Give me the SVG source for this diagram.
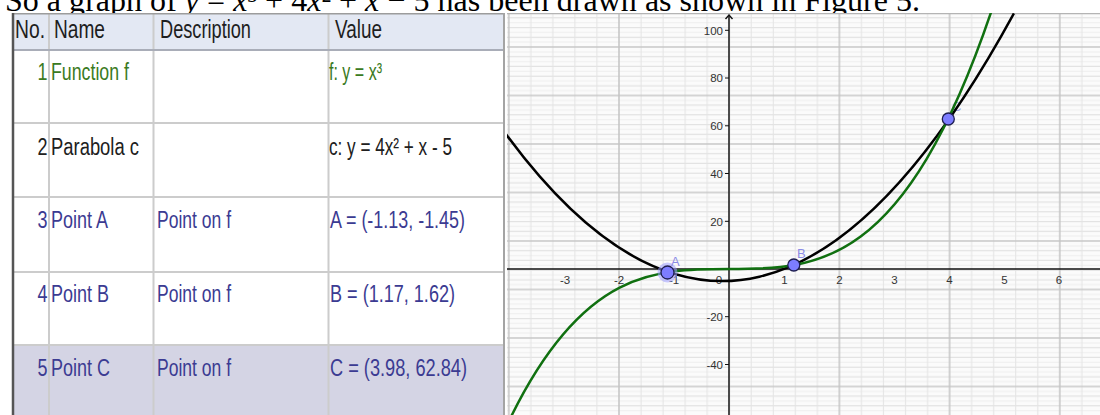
<svg xmlns="http://www.w3.org/2000/svg" width="1100" height="415" viewBox="0 0 1100 415">
<style>
.top{font-family:"Liberation Serif","Times New Roman",serif;font-size:32px;fill:#000}
.it{font-style:italic}
.cell{font-family:"Liberation Sans Narrow","Liberation Sans",Arial,sans-serif;font-size:23.5px}
.hdr{font-family:"Liberation Sans Narrow","Liberation Sans",Arial,sans-serif;font-size:25px;fill:#1e1e1e}
.num{text-anchor:end}
.g{fill:#3a7a22}
.k{fill:#202020}
.b{fill:#3b3b92}
.sep{stroke:#cccccc;stroke-width:2}
.tick{font-family:"Liberation Sans",Arial,sans-serif;font-size:11.5px;fill:#333}
.ty{text-anchor:end}
.tx{text-anchor:middle}
.pt{fill:#7d7dff;stroke:#1e1e50;stroke-width:1.3}
.plab{font-family:"Liberation Sans",Arial,sans-serif;font-size:13px;fill:#8c8ce6}
.curve{fill:none;stroke-width:2.5}
</style>
<defs>
<pattern id="grid" x="507.8" y="-2.5" width="110.2" height="48.5" patternUnits="userSpaceOnUse">
<rect width="110.2" height="48.5" fill="#fbfbfb"/>
<g stroke="#eeeeee" stroke-width="1">
<line x1="0" y1="5.85" x2="110.2" y2="5.85"/><line x1="0" y1="15.55" x2="110.2" y2="15.55"/><line x1="0" y1="25.25" x2="110.2" y2="25.25"/><line x1="0" y1="34.95" x2="110.2" y2="34.95"/><line x1="0" y1="44.65" x2="110.2" y2="44.65"/>
</g>
<g stroke="#dddddd" stroke-width="1">
<line x1="0" y1="10.7" x2="110.2" y2="10.7"/><line x1="0" y1="20.4" x2="110.2" y2="20.4"/><line x1="0" y1="30.1" x2="110.2" y2="30.1"/><line x1="0" y1="39.8" x2="110.2" y2="39.8"/>
</g>
<g stroke="#e4e4e4" stroke-width="1">
<line x1="23.04" y1="0" x2="23.04" y2="48.5"/><line x1="45.08" y1="0" x2="45.08" y2="48.5"/><line x1="67.12" y1="0" x2="67.12" y2="48.5"/><line x1="89.16" y1="0" x2="89.16" y2="48.5"/>
</g>
<line x1="0" y1="1" x2="110.2" y2="1" stroke="#c8c8c8" stroke-width="1.3"/>
<line x1="1" y1="0" x2="1" y2="48.5" stroke="#c4c4c4" stroke-width="1.5"/>
</pattern>
<clipPath id="gclip"><rect x="507" y="13" width="593" height="402"/></clipPath>
</defs>

<rect width="1100" height="415" fill="#ffffff"/>

<g id="caption">
<text class="top" x="5" y="10.5" textLength="915" lengthAdjust="spacing">So a graph of <tspan class="it">y</tspan> = <tspan class="it">x</tspan>³ + 4<tspan class="it">x</tspan>² + <tspan class="it">x</tspan> − 5 has been drawn as shown in Figure 5.</text>
</g>

<g id="table">
<rect x="12" y="13" width="493" height="402" fill="#ffffff"/>
<rect x="12" y="13" width="493" height="37" fill="#e3e8f3"/>
<rect x="12" y="345" width="493" height="70" fill="#d4d4e4"/>
<g class="sep">
<line x1="49" y1="13" x2="49" y2="415"/>
<line x1="153.5" y1="13" x2="153.5" y2="415"/>
<line x1="328.5" y1="13" x2="328.5" y2="415"/>
<line x1="12" y1="123" x2="505" y2="123"/>
<line x1="12" y1="197" x2="505" y2="197"/>
<line x1="12" y1="272" x2="505" y2="272"/>
<line x1="12" y1="345" x2="505" y2="345"/>
</g>
<line x1="12" y1="50" x2="505" y2="50" stroke="#a9adb8" stroke-width="2"/>
<line x1="12" y1="13.7" x2="505" y2="13.7" stroke="#9c9c9c" stroke-width="1.5"/>
<line x1="13" y1="13" x2="13" y2="415" stroke="#555555" stroke-width="2.5"/>
<line x1="504" y1="13" x2="504" y2="415" stroke="#a4a4a4" stroke-width="2"/>

<g id="header">
<text class="hdr" x="15" y="38" textLength="30" lengthAdjust="spacingAndGlyphs">No.</text>
<text class="hdr" x="54" y="38" textLength="51" lengthAdjust="spacingAndGlyphs">Name</text>
<text class="hdr" x="160" y="38" textLength="91" lengthAdjust="spacingAndGlyphs">Description</text>
<text class="hdr" x="335" y="38" textLength="47" lengthAdjust="spacingAndGlyphs">Value</text>
</g>
<g id="row1" class="cell g">
<text class="num" x="47.5" y="80" textLength="10" lengthAdjust="spacingAndGlyphs">1</text>
<text x="51" y="80" textLength="78" lengthAdjust="spacingAndGlyphs">Function f</text>
<text x="329" y="80" textLength="53" lengthAdjust="spacingAndGlyphs">f: y = x³</text>
</g>
<g id="row2" class="cell k">
<text class="num" x="47.5" y="155" textLength="10" lengthAdjust="spacingAndGlyphs">2</text>
<text x="51" y="155" textLength="88" lengthAdjust="spacingAndGlyphs">Parabola c</text>
<text x="329" y="155" textLength="123" lengthAdjust="spacingAndGlyphs">c: y = 4x² + x - 5</text>
</g>
<g id="row3" class="cell b">
<text class="num" x="47.5" y="228" textLength="10" lengthAdjust="spacingAndGlyphs">3</text>
<text x="51" y="228" textLength="57" lengthAdjust="spacingAndGlyphs">Point A</text>
<text x="157" y="228" textLength="74" lengthAdjust="spacingAndGlyphs">Point on f</text>
<text x="330" y="228" textLength="135" lengthAdjust="spacingAndGlyphs">A = (-1.13, -1.45)</text>
</g>
<g id="row4" class="cell b">
<text class="num" x="47.5" y="302" textLength="10" lengthAdjust="spacingAndGlyphs">4</text>
<text x="51" y="302" textLength="58" lengthAdjust="spacingAndGlyphs">Point B</text>
<text x="157" y="302" textLength="74" lengthAdjust="spacingAndGlyphs">Point on f</text>
<text x="330" y="302" textLength="125" lengthAdjust="spacingAndGlyphs">B = (1.17, 1.62)</text>
</g>
<g id="row5" class="cell b">
<text class="num" x="47.5" y="376" textLength="10" lengthAdjust="spacingAndGlyphs">5</text>
<text x="51" y="376" textLength="59" lengthAdjust="spacingAndGlyphs">Point C</text>
<text x="157" y="376" textLength="74" lengthAdjust="spacingAndGlyphs">Point on f</text>
<text x="330" y="376" textLength="137" lengthAdjust="spacingAndGlyphs">C = (3.98, 62.84)</text>
</g>
</g>

<g id="graph">
<rect x="507" y="13" width="593" height="402" fill="url(#grid)"/>
<line x1="507" y1="13.6" x2="1100" y2="13.6" stroke="#b4b4b4" stroke-width="1.2"/>
<g id="axes" stroke="#111" stroke-width="1.4" fill="none">
<line x1="507" y1="269" x2="1100" y2="269"/>
<line x1="729" y1="15" x2="729" y2="415"/>
<polyline points="725.5,19 729,15 732.5,19"/>
<g stroke-width="1">
<line x1="725" y1="30.3" x2="729" y2="30.3"/>
<line x1="725" y1="78" x2="729" y2="78"/>
<line x1="725" y1="125.8" x2="729" y2="125.8"/>
<line x1="725" y1="173.5" x2="729" y2="173.5"/>
<line x1="725" y1="221.3" x2="729" y2="221.3"/>
<line x1="725" y1="316.7" x2="729" y2="316.7"/>
<line x1="725" y1="364.5" x2="729" y2="364.5"/>
</g>
</g>
<g id="ylabels" class="tick ty">
<text x="723" y="34.5">100</text>
<text x="723" y="82.2">80</text>
<text x="723" y="130">60</text>
<text x="723" y="177.7">40</text>
<text x="723" y="225.5">20</text>
<text x="723" y="320.9">-20</text>
<text x="723" y="368.7">-40</text>
</g>
<g id="xlabels" class="tick tx">
<text x="565" y="283.5">-3</text>
<text x="619" y="283.5">-2</text>
<text x="674" y="283.5">-1</text>
<text x="719" y="283.5">0</text>
<text x="784.5" y="283.5">1</text>
<text x="839.5" y="283.5">2</text>
<text x="894.5" y="283.5">3</text>
<text x="949.5" y="283.5">4</text>
<text x="1004.5" y="283.5">5</text>
<text x="1059" y="283.5">6</text>
</g>
<text class="plab" x="952" y="111" opacity="0.8">C</text>
<g clip-path="url(#gclip)">
<path id="parabola-c" class="curve" stroke="#000" d="M505,132.87 Q759.44,480.28 1013.9,13.4"/>
<path id="function-f" class="curve" stroke="#107010" d="M511.35,416.1 C671.7,90.95 832.04,484.47 992.38,8.3"/>
</g>
<g id="pointA">
<circle cx="667.5" cy="272.5" r="10" fill="#9d9dff" opacity="0.55"/>
<circle class="pt" cx="667.5" cy="272.5" r="6.5"/>
<text class="plab" x="671" y="266">A</text>
</g>
<g id="pointB">
<circle class="pt" cx="793.8" cy="265" r="6"/>
<text class="plab" x="797" y="258">B</text>
</g>
<g id="pointC">
<circle class="pt" cx="948.3" cy="119" r="6"/>
</g>
</g>
</svg>
